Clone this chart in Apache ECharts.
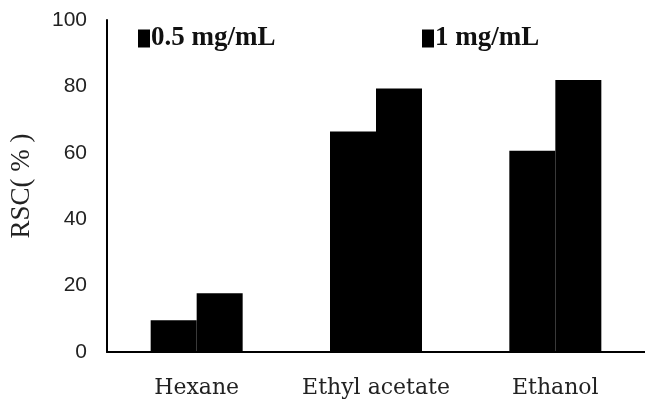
<!DOCTYPE html>
<html>
<head>
<meta charset="utf-8">
<script src="https://cdn.jsdelivr.net/npm/echarts@6/dist/echarts.min.js"></script>
<style>
  html, body { margin: 0; padding: 0; background: #fff; }
  #main { width: 645px; height: 402px; }
</style>
</head>
<body>
<div id="main"></div>
<script>
// solvents on the x axis
const categories = ['Hexane', 'Ethyl acetate', 'Ethanol']
const seriesNames = ['0.5 mg/mL', '1 mg/mL']
// RSC (%)
const rsc05 = [9.6, 66.4, 60.6]
const rsc1 = [17.7, 79.4, 81.9]
const yTicks = [0, 20, 40, 60, 80, 100]

const myChart = echarts.init(document.getElementById('main'))

const legendText = {
  fontFamily: '"Liberation Serif", serif',
  fontWeight: 'bold',
  fontSize: 27,
  color: '#111',
  padding: [0, 0, 0, -4]
}

myChart.setOption({
  animation: false,
  legend: [
    {
      data: [seriesNames[0]],
      left: 133, top: 20,
      icon: 'rect', itemWidth: 12, itemHeight: 18,
      textStyle: legendText
    },
    {
      data: [seriesNames[1]],
      left: 417, top: 20,
      icon: 'rect', itemWidth: 12, itemHeight: 18,
      textStyle: legendText
    }
  ],
  grid: { left: 106, right: -4, top: 20, bottom: 50 },
  xAxis: {
    type: 'category',
    data: categories,
    axisLine: { lineStyle: { color: '#000', width: 2 } },
    axisTick: { show: false },
    axisLabel: {
      interval: 0,
      margin: 25,
      fontFamily: '"DejaVu Serif", serif',
      fontSize: 22,
      color: '#222'
    }
  },
  yAxis: {
    type: 'value',
    min: yTicks[0],
    max: yTicks[yTicks.length - 1],
    interval: 20,
    name: 'RSC( % )',
    nameLocation: 'middle',
    nameGap: 72,
    nameTextStyle: {
      fontFamily: '"Liberation Serif", serif',
      fontSize: 27,
      color: '#222'
    },
    axisLine: { show: true, lineStyle: { color: '#000', width: 2 } },
    axisTick: { show: false },
    splitLine: { show: false },
    axisLabel: {
      margin: 20,
      fontFamily: '"Liberation Sans", sans-serif',
      fontSize: 21,
      color: '#222'
    }
  },
  series: [
    {
      name: seriesNames[0],
      type: 'bar',
      data: rsc05,
      barWidth: 46,
      barGap: '0%',
      itemStyle: { color: '#000' }
    },
    {
      name: seriesNames[1],
      type: 'bar',
      data: rsc1,
      barWidth: 46,
      itemStyle: { color: '#000' }
    }
  ]
})
</script>
</body>
</html>
